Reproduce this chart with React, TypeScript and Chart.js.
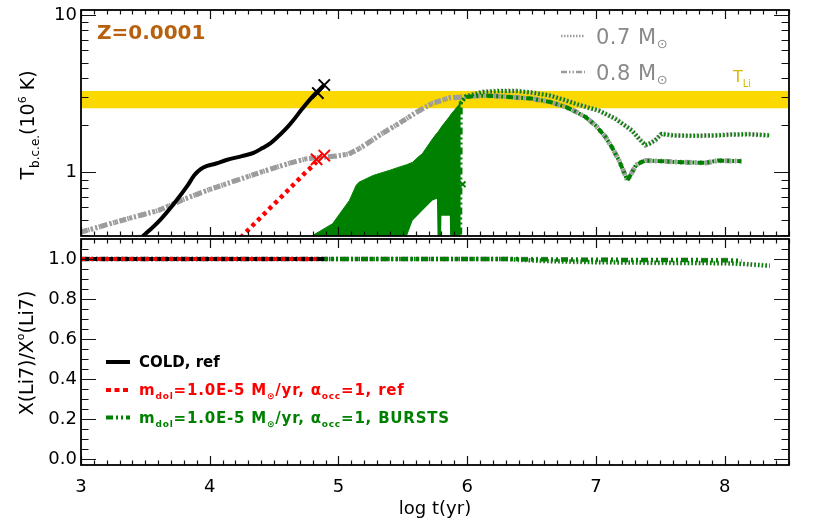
import React, { useEffect, useRef } from 'react';
import { Chart, registerables } from 'chart.js';

Chart.register(...registerables);

const FONT = '"DejaVu Sans", "Liberation Sans", sans-serif';

// ---------- axes ----------
const X_RANGE = [3, 8.5];
const X_TICKS = [3, 4, 5, 6, 7, 8];
const TOP_Y_RANGE = [0.394, 10.8];
const TOP_Y_TICKS = [1, 10];
const TOP_Y_MINOR = [0.4, 0.5, 0.6, 0.7, 0.8, 0.9, 2, 3, 4, 5, 6, 7, 8, 9];
const BOT_Y_RANGE = [-0.03, 1.1];
const BOT_Y_TICKS = [0, 0.2, 0.4, 0.6, 0.8, 1.0];
const BOT_Y_MINOR = [0.05, 0.1, 0.15, 0.25, 0.3, 0.35, 0.45, 0.5, 0.55, 0.65, 0.7, 0.75, 0.85, 0.9, 0.95, 1.05];
const TLI_BAND = [2.56, 3.3];

// ---------- top panel: T_bce (10^6 K) ----------
const COLD_T = [3.47, 3.61, 3.72, 3.83, 3.88, 3.93, 3.98, 4.05, 4.13, 4.25, 4.34, 4.41, 4.47, 4.52, 4.58, 4.64, 4.72, 4.8, 4.89];
const COLD_TBCE = [0.385, 0.494, 0.63, 0.83, 0.96, 1.05, 1.1, 1.14, 1.2, 1.27, 1.33, 1.43, 1.53, 1.66, 1.85, 2.1, 2.55, 3.05, 3.6];
const COLD_END_T = [4.84, 4.89];
const COLD_END = [3.2, 3.6];

const ACC_T = [4.24, 4.35, 4.45, 4.55, 4.65, 4.75, 4.8, 4.83];
const ACC_TBCE = [0.385, 0.474, 0.573, 0.69, 0.835, 1.01, 1.1, 1.17];
const ACC_END_T = [4.83, 4.89];
const ACC_END = [1.21, 1.28];

// standard pre-MS track (0.7 and 0.8 Msun overlap)
const PRE_T = [3.0, 3.2, 3.4, 3.6, 3.8, 4.0, 4.13, 4.26, 4.39, 4.52, 4.645, 4.75, 4.87, 4.98, 5.08, 5.15, 5.22, 5.33, 5.47, 5.6, 5.73, 5.86];
const PRE_TBCE = [0.417, 0.465, 0.517, 0.572, 0.675, 0.78, 0.847, 0.92, 1.0, 1.08, 1.16, 1.22, 1.25, 1.27, 1.31, 1.4, 1.52, 1.75, 2.05, 2.4, 2.75, 2.98];

// main sequence, 0.7 Msun
const MS07_T = [5.99, 6.12, 6.25, 6.38, 6.5, 6.64, 6.75, 6.84, 6.93, 7.02, 7.15, 7.28, 7.34, 7.385, 7.42, 7.46, 7.51, 7.6, 7.75, 7.93, 8.05, 8.19, 8.35];
const MS07_TBCE = [3.05, 3.25, 3.3, 3.3, 3.22, 3.09, 2.9, 2.74, 2.6, 2.48, 2.2, 1.85, 1.62, 1.49, 1.53, 1.6, 1.76, 1.72, 1.71, 1.72, 1.74, 1.75, 1.72];
// main sequence, 0.8 Msun
const MS08_T = [5.99, 6.1, 6.25, 6.5, 6.65, 6.765, 6.85, 6.92, 7.0, 7.075, 7.13, 7.18, 7.245, 7.28, 7.31, 7.35, 7.385, 7.5, 7.67, 7.85, 7.95, 8.13];
const MS08_TBCE = [3.02, 3.08, 3.05, 2.95, 2.8, 2.61, 2.42, 2.25, 1.98, 1.68, 1.42, 1.19, 0.89, 1.0, 1.11, 1.16, 1.19, 1.18, 1.16, 1.15, 1.19, 1.18];

// bursts episode (envelope of the oscillation)
const BURST_T = [4.76, 4.85, 4.955, 5.02, 5.085, 5.137, 5.16, 5.27, 5.395, 5.47, 5.5, 5.53, 5.576, 5.628, 5.65, 5.73, 5.765, 5.772, 5.795, 5.8, 5.865, 5.87, 5.92, 5.95];
const BURST_TOP = [0.38, 0.42, 0.472, 0.56, 0.663, 0.826, 0.867, 0.957, 1.03, 1.08, 1.1, 1.12, 1.16, 1.27, 1.31, 1.63, 1.78, 1.8, 1.92, 1.95, 2.28, 2.32, 2.6, 2.78];
const BURST_BOTTOM = [0.3, 0.3, 0.3, 0.3, 0.3, 0.3, 0.3, 0.3, 0.3, 0.3, 0.3, 0.39, 0.494, 0.546, 0.57, 0.663, 0.68, 0.3, 0.3, 0.53, 0.53, 0.3, 0.3, 0.3];
const BURST_RISE_T = [5.945, 5.95];
const BURST_RISE = [0.3, 2.78];
const BURST_MARK_T = [5.965];
const BURST_MARK = [0.84];

// ---------- bottom panel: X(Li7)/X0(Li7) ----------
const LI_COLD_T = [3.0, 4.89];
const LI_COLD = [1.0, 1.0];
const LI_ACC_T = [3.0, 4.83];
const LI_ACC = [1.0, 1.0];
const LI07_T = [3.0, 6.3, 6.6, 7.0, 7.5, 8.0, 8.15, 8.35];
const LI07 = [1.0, 1.0, 0.99, 0.984, 0.981, 0.979, 0.975, 0.966];
const LI08_T = [3.0, 6.3, 7.0, 8.0, 8.13];
const LI08 = [1.0, 1.0, 0.996, 0.994, 0.99];

// ---------- styles ----------
const C_GRAY = '#9c9c9c';
const C_GREEN = '#008000';
const C_RED = '#ff0000';
const C_BAND = '#fad800';
const DOT = [1.5, 2.2];
const DASH3DOT = [7, 3, 2, 3, 2, 3];
const DASHED = [4, 4];

const pts = (xs: number[], ys: number[]) => xs.map((x, i) => ({ x, y: ys[i] }));

function line(data: any[], color: string, width: number, dash: number[], order: number, extra: any = {}) {
  return {
    type: 'line',
    data,
    borderColor: color,
    backgroundColor: color,
    borderWidth: width,
    borderDash: dash,
    pointRadius: 0,
    fill: false,
    order,
    clip: 0,
    tension: 0,
    ...extra,
  };
}

function marks(data: any[], color: string, radius: number, order: number) {
  return {
    type: 'line',
    data,
    showLine: false,
    borderColor: color,
    backgroundColor: color,
    pointStyle: 'crossRot',
    pointRadius: radius,
    pointBorderWidth: 2,
    order,
    clip: 0,
  };
}

type Seg = { t: string; s: number; dy?: number; w?: string };

function segWidth(ctx: CanvasRenderingContext2D, segs: Seg[], ls = 0) {
  let w = 0;
  for (const g of segs) {
    ctx.font = `${g.w || 'normal'} ${g.s}px ${FONT}`;
    (ctx as any).letterSpacing = ls + 'px';
    w += ctx.measureText(g.t).width;
  }
  (ctx as any).letterSpacing = '0px';
  return w;
}

function drawSegs(ctx: CanvasRenderingContext2D, segs: Seg[], x: number, y: number, color: string, ls = 0) {
  ctx.fillStyle = color;
  ctx.textBaseline = 'alphabetic';
  ctx.textAlign = 'left';
  let cx = x;
  for (const g of segs) {
    ctx.font = `${g.w || 'normal'} ${g.s}px ${FONT}`;
    (ctx as any).letterSpacing = ls + 'px';
    ctx.fillText(g.t, cx, y + (g.dy || 0));
    cx += ctx.measureText(g.t).width;
  }
  (ctx as any).letterSpacing = '0px';
}

function drawRotated(ctx: CanvasRenderingContext2D, segs: Seg[], cx: number, cy: number, base: number) {
  ctx.save();
  ctx.translate(cx, cy);
  ctx.rotate(-Math.PI / 2);
  const w = segWidth(ctx, segs);
  drawSegs(ctx, segs, -w / 2, base, '#000');
  ctx.restore();
}

function sample(ctx: CanvasRenderingContext2D, x1: number, x2: number, y: number, color: string, width: number, dash: number[]) {
  ctx.save();
  ctx.strokeStyle = color;
  ctx.lineWidth = width;
  ctx.setLineDash(dash);
  ctx.beginPath();
  ctx.moveTo(x1, y);
  ctx.lineTo(x2, y);
  ctx.stroke();
  ctx.restore();
}

function framePlugin(yMajors: number[], yMinors: number[]) {
  return {
    id: 'frame',
    afterDatasetsDraw(chart: any) {
      const { ctx, chartArea: a, scales } = chart;
      const xs = scales.x;
      const ys = scales.y;
      ctx.save();
      ctx.strokeStyle = '#111';
      ctx.lineWidth = 1.2;
      ctx.beginPath();
      for (let i = X_RANGE[0] * 10; i <= X_RANGE[1] * 10; i++) {
        const px = Math.round(xs.getPixelForValue(i / 10)) + 0.5;
        const len = i % 10 === 0 ? 9 : 4.5;
        ctx.moveTo(px, a.bottom);
        ctx.lineTo(px, a.bottom - len);
        ctx.moveTo(px, a.top);
        ctx.lineTo(px, a.top + len);
      }
      const groups: [number[], number][] = [[yMajors, 15], [yMinors, 7.5]];
      for (const [vals, len] of groups) {
        for (const v of vals) {
          const py = Math.round(ys.getPixelForValue(v)) + 0.5;
          ctx.moveTo(a.left, py);
          ctx.lineTo(a.left + len, py);
          ctx.moveTo(a.right, py);
          ctx.lineTo(a.right - len, py);
        }
      }
      ctx.stroke();
      ctx.lineWidth = 1.8;
      ctx.strokeStyle = '#000';
      ctx.strokeRect(a.left, a.top, a.right - a.left, a.bottom - a.top);
      ctx.restore();
    },
  };
}

const bandPlugin = {
  id: 'band',
  beforeDatasetsDraw(chart: any) {
    const { ctx, chartArea: a, scales } = chart;
    const y1 = scales.y.getPixelForValue(TLI_BAND[1]);
    const y2 = scales.y.getPixelForValue(TLI_BAND[0]);
    ctx.save();
    ctx.fillStyle = C_BAND;
    ctx.fillRect(a.left, y1, a.right - a.left, y2 - y1);
    ctx.restore();
  },
};

const topTextPlugin = {
  id: 'topText',
  afterDraw(chart: any) {
    const ctx: CanvasRenderingContext2D = chart.ctx;
    ctx.save();
    drawSegs(ctx, [{ t: 'Z=0.0001', s: 20, w: 'bold' }], 97, 39, '#b8600c');
    sample(ctx, 561, 585, 36, C_GRAY, 2.5, [1.5, 1.5]);
    drawSegs(ctx, [{ t: '0.7 M', s: 21 }, { t: '⊙', s: 13, dy: 4 }], 596, 43.5, '#8a8a8a', 0.5);
    sample(ctx, 561, 585, 72, C_GRAY, 2.5, [6, 2, 1.5, 2, 1.5, 2]);
    drawSegs(ctx, [{ t: '0.8 M', s: 21 }, { t: '⊙', s: 13, dy: 4 }], 596, 79.5, '#8a8a8a', 0.5);
    drawSegs(ctx, [{ t: 'T', s: 16 }, { t: 'Li', s: 10, dy: 5 }], 733, 82, '#d9b800');
    drawRotated(ctx, [
      { t: 'T', s: 19 },
      { t: 'b.c.e.', s: 12, dy: 5 },
      { t: '(10', s: 19 },
      { t: '6', s: 11, dy: -8 },
      { t: ' K)', s: 19 },
    ], 27, 125, 7);
    ctx.restore();
  },
};

const botTextPlugin = {
  id: 'botText',
  afterDraw(chart: any) {
    const ctx: CanvasRenderingContext2D = chart.ctx;
    ctx.save();
    drawRotated(ctx, [
      { t: 'X(Li7)/X', s: 19 },
      { t: 'o', s: 11, dy: -9 },
      { t: '(Li7)', s: 19 },
    ], 26, 115, 7);
    const x0 = 106, x1 = 130, tx = 139;
    sample(ctx, x0, x1, 124, '#000', 4, []);
    drawSegs(ctx, [{ t: 'COLD, ref', s: 15, w: 'bold' }], tx, 129, '#000');
    sample(ctx, x0, x1, 152, C_RED, 4, [5, 3.5]);
    const accSegs = (tail: string): Seg[] => [
      { t: 'm', s: 15, w: 'bold' },
      { t: 'dol', s: 9, dy: 4, w: 'bold' },
      { t: '=1.0E-5 M', s: 15, w: 'bold' },
      { t: '⊙', s: 9, dy: 4, w: 'bold' },
      { t: '/yr, ', s: 15, w: 'bold' },
      { t: 'α', s: 15, w: 'bold' },
      { t: 'occ', s: 9, dy: 4, w: 'bold' },
      { t: '=1, ' + tail, s: 15, w: 'bold' },
    ];
    drawSegs(ctx, accSegs('ref'), tx, 157, C_RED, 0.8);
    sample(ctx, x0, x1, 179.5, C_GREEN, 4, [7, 3, 2, 3, 2, 3]);
    drawSegs(ctx, accSegs('BURSTS'), tx, 185, C_GREEN, 0.8);
    ctx.restore();
  },
};

const baseFont = { family: FONT, size: 18 };

function noPad(s: any) {
  s.paddingTop = 0;
  s.paddingBottom = 0;
  s.paddingLeft = 0;
  s.paddingRight = 0;
}

function topConfig(): any {
  return {
    type: 'line',
    data: {
      datasets: [
        line(pts(PRE_T.concat(MS07_T), PRE_TBCE.concat(MS07_TBCE)), C_GRAY, 5, DOT, 20),
        line(pts(PRE_T.concat(MS08_T), PRE_TBCE.concat(MS08_TBCE)), C_GRAY, 5, DASH3DOT, 19),
        line(pts(BURST_T, BURST_TOP), C_GREEN, 1, [], 15, { fill: '+1', backgroundColor: C_GREEN }),
        line(pts(BURST_T, BURST_BOTTOM), C_GREEN, 0, [], 15),
        line(pts(BURST_RISE_T.slice(1).concat(MS07_T), BURST_RISE.slice(1).concat(MS07_TBCE)), C_GREEN, 4, DOT, 10),
        line(pts(BURST_RISE_T.concat(MS08_T), BURST_RISE.concat(MS08_TBCE)), C_GREEN, 4, DASH3DOT, 9),
        marks(pts(BURST_MARK_T, BURST_MARK), C_GREEN, 4, 8),
        line(pts(COLD_T, COLD_TBCE), '#000', 4, [], 5, { cubicInterpolationMode: 'monotone' }),
        line(pts(ACC_T, ACC_TBCE), C_RED, 4.5, DASHED, 4),
        marks(pts(COLD_END_T, COLD_END), '#000', 8, 2),
        marks(pts(ACC_END_T, ACC_END), C_RED, 8, 1),
      ],
    },
    options: {
      animation: false,
      responsive: false,
      devicePixelRatio: 1,
      layout: { autoPadding: false, padding: { top: 10, right: 25, bottom: 2, left: 0 } },
      plugins: { legend: { display: false }, tooltip: { enabled: false } },
      scales: {
        x: {
          type: 'linear', min: X_RANGE[0], max: X_RANGE[1], display: true,
          ticks: { display: false },
          grid: { display: false, drawTicks: false },
          border: { display: false },
          afterFit: (s: any) => { s.height = 0; noPad(s); },
        },
        y: {
          type: 'logarithmic',
          min: TOP_Y_RANGE[0],
          max: TOP_Y_RANGE[1],
          afterFit: (s: any) => { s.width = 81; noPad(s); },
          afterBuildTicks: (s: any) => { s.ticks = TOP_Y_TICKS.map((v) => ({ value: v })); },
          ticks: { callback: (v: any) => String(v), font: baseFont, color: '#000', padding: 4 },
          grid: { display: false, drawTicks: false },
          border: { display: false },
        },
      },
    },
    plugins: [bandPlugin, framePlugin(TOP_Y_TICKS, TOP_Y_MINOR), topTextPlugin],
  };
}

function botConfig(): any {
  return {
    type: 'line',
    data: {
      datasets: [
        line(pts(LI07_T, LI07), C_GRAY, 5, DOT, 20),
        line(pts(LI08_T, LI08), C_GRAY, 5, DASH3DOT, 19),
        line(pts(LI07_T, LI07), C_GREEN, 4, DOT, 10),
        line(pts(LI08_T, LI08), C_GREEN, 4, DASH3DOT, 9),
        line(pts(LI_COLD_T, LI_COLD), '#000', 4, [], 5),
        line(pts(LI_ACC_T, LI_ACC), C_RED, 4, DASHED, 4),
      ],
    },
    options: {
      animation: false,
      responsive: false,
      devicePixelRatio: 1,
      layout: { autoPadding: false, padding: { top: 1, right: 25, bottom: 0, left: 0 } },
      plugins: { legend: { display: false }, tooltip: { enabled: false } },
      scales: {
        x: {
          type: 'linear',
          min: X_RANGE[0],
          max: X_RANGE[1],
          afterFit: (s: any) => { s.height = 58; noPad(s); },
          afterBuildTicks: (s: any) => { s.ticks = X_TICKS.map((v) => ({ value: v })); },
          ticks: { callback: (v: any) => String(v), font: baseFont, color: '#000', padding: 12, maxRotation: 0 },
          title: { display: true, text: 'log t(yr)', font: baseFont, color: '#000', padding: { top: 0, bottom: 3 } },
          grid: { display: false, drawTicks: false },
          border: { display: false },
        },
        y: {
          type: 'linear',
          min: BOT_Y_RANGE[0],
          max: BOT_Y_RANGE[1],
          afterFit: (s: any) => { s.width = 81; noPad(s); },
          afterBuildTicks: (s: any) => { s.ticks = BOT_Y_TICKS.map((v) => ({ value: v })); },
          ticks: { callback: (v: any) => Number(v).toFixed(1), font: baseFont, color: '#000', padding: 4 },
          grid: { display: false, drawTicks: false },
          border: { display: false },
        },
      },
    },
    plugins: [framePlugin(BOT_Y_TICKS, BOT_Y_MINOR), botTextPlugin],
  };
}

export default function App() {
  const topRef = useRef<HTMLCanvasElement>(null);
  const botRef = useRef<HTMLCanvasElement>(null);
  useEffect(() => {
    document.body.style.margin = '0';
    const c1 = new Chart(topRef.current as HTMLCanvasElement, topConfig());
    const c2 = new Chart(botRef.current as HTMLCanvasElement, botConfig());
    return () => {
      c1.destroy();
      c2.destroy();
    };
  }, []);
  return (
    <div style={{ position: 'relative', width: 814, height: 523, background: '#fff' }}>
      <canvas ref={topRef} width={814} height={238} style={{ position: 'absolute', left: 0, top: 0 }} />
      <canvas ref={botRef} width={814} height={285} style={{ position: 'absolute', left: 0, top: 238 }} />
    </div>
  );
}
